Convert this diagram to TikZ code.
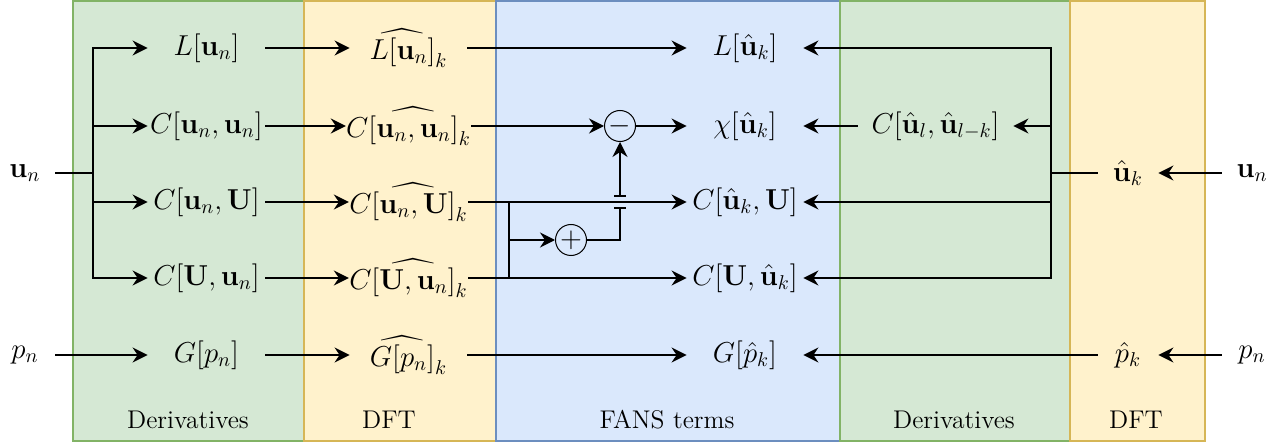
\documentclass[tikz,border=0pt]{standalone}
\usepackage{amsmath}
\usetikzlibrary{arrows.meta}
\definecolor{greenfill}{HTML}{D5E8D4}
\definecolor{greenline}{HTML}{82B366}
\definecolor{yellowfill}{HTML}{FFF2CC}
\definecolor{yellowline}{HTML}{D6B656}
\definecolor{bluefill}{HTML}{DAE8FC}
\definecolor{blueline}{HTML}{6C8EBF}
\begin{document}
\begin{tikzpicture}[x=0.5pt, y=-0.5pt,
    panel/.style={draw, line width=0.75pt},
    term/.style={inner sep=0pt, minimum width=58.5pt, minimum height=15pt, font=\Large},
    var/.style={inner sep=0pt, minimum width=30pt, minimum height=15pt, font=\Large},
    op/.style={draw, circle, inner sep=0pt, minimum size=15.5pt, line width=0.5pt, font=\Large},
    lbl/.style={font=\fontsize{12.8}{15}\selectfont},
    arrow/.style={-{Stealth[length=7.5pt, width=7.5pt, inset=2.5pt]}, line width=1pt},
    line/.style={line width=1pt},
]
\useasboundingbox (0,0) rectangle (1276,444);

% Bereiche
\draw[panel, draw=greenline, fill=greenfill] (73,1) rectangle (304,441);
\draw[panel, draw=yellowline, fill=yellowfill] (304,1) rectangle (496,441);
\draw[panel, draw=blueline, fill=bluefill] (496,1) rectangle (840,441);
\draw[panel, draw=greenline, fill=greenfill] (840,1) rectangle (1070,441);
\draw[panel, draw=yellowline, fill=yellowfill] (1070,1) rectangle (1205,441);

\node[lbl] (lDer) at (188,420) {Derivatives};
\node[lbl] (lDFT) at (389,420) {DFT};
\node[lbl] (lFANS) at (667,420) {FANS terms};
\node[lbl] (lDerR) at (954,420) {Derivatives};
\node[lbl] (lDFTR) at (1136,420) {DFT};

% Eingaenge
\node[var] (un) at (25,173) {$\mathbf{u}_n$};
\node[var] (pn) at (25,355) {$p_n$};
\node[var] (unR) at (1252,173) {$\mathbf{u}_n$};
\node[var] (pnR) at (1252,355) {$p_n$};
\node[var] (uhat) at (1128,173) {$\hat{\mathbf{u}}_k$};
\node[var] (phat) at (1128,355) {$\hat{p}_k$};

% Ableitungen
\node[term] (dL) at (206.5,48) {$L[\mathbf{u}_n]$};
\node[term] (dCuu) at (206.5,126) {$C[\mathbf{u}_n,\mathbf{u}_n]$};
\node[term] (dCuU) at (206.5,202) {$C[\mathbf{u}_n,\mathbf{U}]$};
\node[term] (dCUu) at (206.5,278) {$C[\mathbf{U},\mathbf{u}_n]$};
\node[term] (dG) at (206.5,355) {$G[p_n]$};

% DFT
\node[term] (hL) at (408.5,48) {$\widehat{L[\mathbf{u}_n]}_k$};
\node[term] (hCuu) at (408.5,126) {$C\widehat{[\mathbf{u}_n,\mathbf{u}_n]}_k$};
\node[term] (hCuU) at (408.5,202) {$C\widehat{[\mathbf{u}_n,\mathbf{U}]}_k$};
\node[term] (hCUu) at (408.5,278) {$C\widehat{[\mathbf{U},\mathbf{u}_n]}_k$};
\node[term] (hG) at (408.5,355) {$\widehat{G[p_n]}_k$};

% FANS
\node[term, minimum width=58pt] (fL) at (745,48) {$L[\hat{\mathbf{u}}_k]$};
\node[term, minimum width=58pt] (fchi) at (745,126) {$\chi[\hat{\mathbf{u}}_k]$};
\node[term, minimum width=58pt] (fCuU) at (745,202) {$C[\hat{\mathbf{u}}_k,\mathbf{U}]$};
\node[term, minimum width=58pt] (fCUu) at (745,278) {$C[\mathbf{U},\hat{\mathbf{u}}_k]$};
\node[term, minimum width=58pt] (fG) at (745,355) {$G[\hat{p}_k]$};
\node[op] (minus) at (620,126) {$-$};
\node[op] (plus) at (571,240) {$+$};

\node[term, minimum width=77.5pt] (dCr) at (935.5,126) {$C[\hat{\mathbf{u}}_l,\hat{\mathbf{u}}_{l-k}]$};

\coordinate (splitL) at (93,173);
\coordinate (splitR) at (1051,173);
\coordinate (splitM) at (509,202);
\coordinate (splitP) at (509,240);
\coordinate (jumpA) at (620,208);
\coordinate (jumpB) at (620,196);

% Verbindungen links
\draw[line] (un) -- (splitL);
\foreach \n in {dL,dCuu,dCuU,dCUu}
  \draw[arrow] (splitL) |- (\n);
\draw[arrow] (pn) -- (dG);
\foreach \a/\b in {dL/hL,dCuu/hCuu,dCuU/hCuU,dCUu/hCUu,dG/hG}
  \draw[arrow] (\a) -- (\b);

% Verbindungen Mitte
\draw[arrow] (hL) -- (fL);
\draw[arrow] (hCuu) -- (minus);
\draw[arrow] (minus) -- (fchi);
\draw[arrow] (hCuU) -- (fCuU);
\draw[arrow] (hCUu) -- (fCUu);
\draw[arrow] (hG) -- (fG);
\draw[line] (splitM) -- (splitM |- hCUu);
\draw[arrow] (splitP) -- (plus);
\draw[line] (plus) -| (jumpA);
\draw[line] (614,208) -- (626,208);
\draw[line] (614,196) -- (626,196);
\draw[arrow] (jumpB) -- (minus);

% Verbindungen rechts
\draw[arrow] (unR) -- (uhat);
\draw[arrow] (pnR) -- (phat);
\draw[line] (uhat) -- (splitR);
\foreach \n in {fL,dCr,fCuU,fCUu}
  \draw[arrow] (splitR) |- (\n);
\draw[arrow] (dCr) -- (fchi);
\draw[arrow] (phat) -- (fG);
\end{tikzpicture}
\end{document}
